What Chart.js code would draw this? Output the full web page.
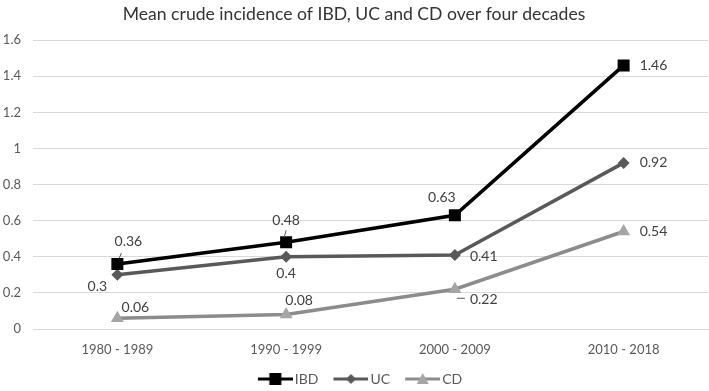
<!DOCTYPE html>
<html>
<head>
<meta charset="utf-8">
<script src="https://cdn.jsdelivr.net/npm/chart.js@4/dist/chart.umd.min.js"></script>
<style>
  html, body { margin: 0; padding: 0; background: #fff; }
  #wrap { width: 709px; height: 391px; }
</style>
</head>
<body>
<div id="wrap"><canvas id="incidence"></canvas></div>
<script>
var decades = ['1980 - 1989', '1990 - 1999', '2000 - 2009', '2010 - 2018'];
var ibd = [0.36, 0.48, 0.63, 1.46];
var uc = [0.3, 0.4, 0.41, 0.92];
var cd = [0.06, 0.08, 0.22, 0.54];
var yTicks = ['0', '0.2', '0.4', '0.6', '0.8', '1', '1.2', '1.4', '1.6'];

var FONT = 'Lato, "Open Sans", sans-serif';

// label offsets from each point: dx, dy, align, optional leader line (relative to point)
var labelOffsets = [
    [[11, -23, 'center', [4, -11, 2, -6]], [0, -22, 'center', [0, -12, -2, -5]], [-13, -18, 'center'], [16, 0, 'left']],
    [[-20, 12, 'center'], [0, 17, 'center'], [15, 2, 'left'], [16, 0, 'left']],
    [[18, -11, 'center'], [13, -14, 'center'], [15, 10, 'left', [2, 9, 10, 9]], [16, 0, 'left']]
];

// legend swatch: line with marker, a bit wider than its box so the line runs up to the text
function swatch(color, markerColor, shape) {
    var c = document.createElement('canvas');
    c.width = 52; c.height = 14;
    var g = c.getContext('2d');
    g.strokeStyle = color; g.lineWidth = 3;
    g.beginPath(); g.moveTo(17, 7); g.lineTo(52, 7); g.stroke();
    g.fillStyle = markerColor;
    g.beginPath();
    var m = 34.5;
    if (shape === 'rect') {
        g.rect(m - 6, 1, 12, 12);
    } else if (shape === 'diamond') {
        g.moveTo(m, 2); g.lineTo(m + 5, 7); g.lineTo(m, 12); g.lineTo(m - 5, 7);
    } else {
        g.moveTo(m, 1); g.lineTo(m + 6, 12); g.lineTo(m - 6, 12);
    }
    g.closePath(); g.fill();
    return c;
}

var swatches = [
    swatch('#000000', '#000000', 'rect'),
    swatch('#595959', '#595959', 'diamond'),
    swatch('#8c8c8c', '#a5a5a5', 'tri')
];

var valueLabels = {
    id: 'valueLabels',
    afterDatasetsDraw: function (chart) {
        var ctx = chart.ctx;
        ctx.save();
        ctx.font = '14px ' + FONT;
        ctx.fillStyle = '#404040';
        ctx.textBaseline = 'middle';
        chart.data.datasets.forEach(function (ds, di) {
            var meta = chart.getDatasetMeta(di);
            meta.data.forEach(function (pt, i) {
                var o = labelOffsets[di][i];
                ctx.textAlign = o[2];
                ctx.fillText(String(ds.data[i]), pt.x + o[0], pt.y + o[1]);
                if (o[3]) {
                    ctx.strokeStyle = '#595959';
                    ctx.lineWidth = 1;
                    ctx.beginPath();
                    ctx.moveTo(pt.x + o[3][0], pt.y + o[3][1]);
                    ctx.lineTo(pt.x + o[3][2], pt.y + o[3][3]);
                    ctx.stroke();
                }
            });
        });
        ctx.restore();
    }
};

new Chart(document.getElementById('incidence'), {
    type: 'line',
    data: {
        labels: decades,
        datasets: [{
            label: 'IBD',
            data: ibd,
            borderColor: '#000000',
            backgroundColor: '#000000',
            borderWidth: 3.5,
            pointStyle: 'rect',
            pointRadius: 8.5,
            pointBorderWidth: 0,
            fill: false
        }, {
            label: 'UC',
            data: uc,
            borderColor: '#595959',
            backgroundColor: '#595959',
            borderWidth: 3.5,
            pointStyle: 'rectRot',
            pointRadius: 6,
            pointBorderWidth: 0,
            fill: false
        }, {
            label: 'CD',
            data: cd,
            borderColor: '#8c8c8c',
            backgroundColor: '#a5a5a5',
            borderWidth: 3.5,
            pointStyle: 'triangle',
            pointRadius: 7.5,
            pointBorderWidth: 0,
            fill: false
        }]
    },
    options: {
        responsive: true,
        maintainAspectRatio: false,
        animation: false,
        layout: { autoPadding: false, padding: { left: 0, right: 1, top: 2, bottom: -5 } },
        plugins: {
            title: {
                display: true,
                text: 'Mean crude incidence of IBD, UC and CD over four decades',
                color: '#333333',
                font: { family: FONT, size: 17.6, weight: 'normal' },
                padding: { top: 2, bottom: 15 }
            },
            legend: {
                position: 'bottom',
                padding: 0,
                labels: {
                    usePointStyle: true,
                    pointStyleWidth: 42,
                    color: '#595959',
                    padding: 3,
                    font: { family: FONT, size: 14 },
                    generateLabels: function (chart) {
                        return chart.data.datasets.map(function (ds, i) {
                            return {
                                text: ds.label,
                                pointStyle: swatches[i],
                                fontColor: '#595959',
                                datasetIndex: i,
                                lineWidth: 0,
                                hidden: false
                            };
                        });
                    }
                }
            },
            tooltip: { enabled: false }
        },
        scales: {
            x: {
                offset: true,
                afterFit: function (scale) {
                    scale.height = 40;
                    scale.paddingLeft = 0;
                    scale.paddingRight = 0;
                },
                grid: { display: false, drawTicks: false, offset: true },
                border: { color: '#d9d9d9', width: 1 },
                ticks: {
                    color: '#595959',
                    padding: 13,
                    font: { family: FONT, size: 13 }
                }
            },
            y: {
                min: 0,
                max: 1.6,
                afterFit: function (scale) { scale.width = 33; },
                grid: { color: '#d9d9d9', drawTicks: false },
                border: { display: false },
                ticks: {
                    stepSize: 0.2,
                    padding: 12,
                    color: '#595959',
                    font: { family: FONT, size: 13 },
                    callback: function (v, i) { return yTicks[i]; }
                }
            }
        }
    },
    plugins: [valueLabels]
});
</script>
</body>
</html>
